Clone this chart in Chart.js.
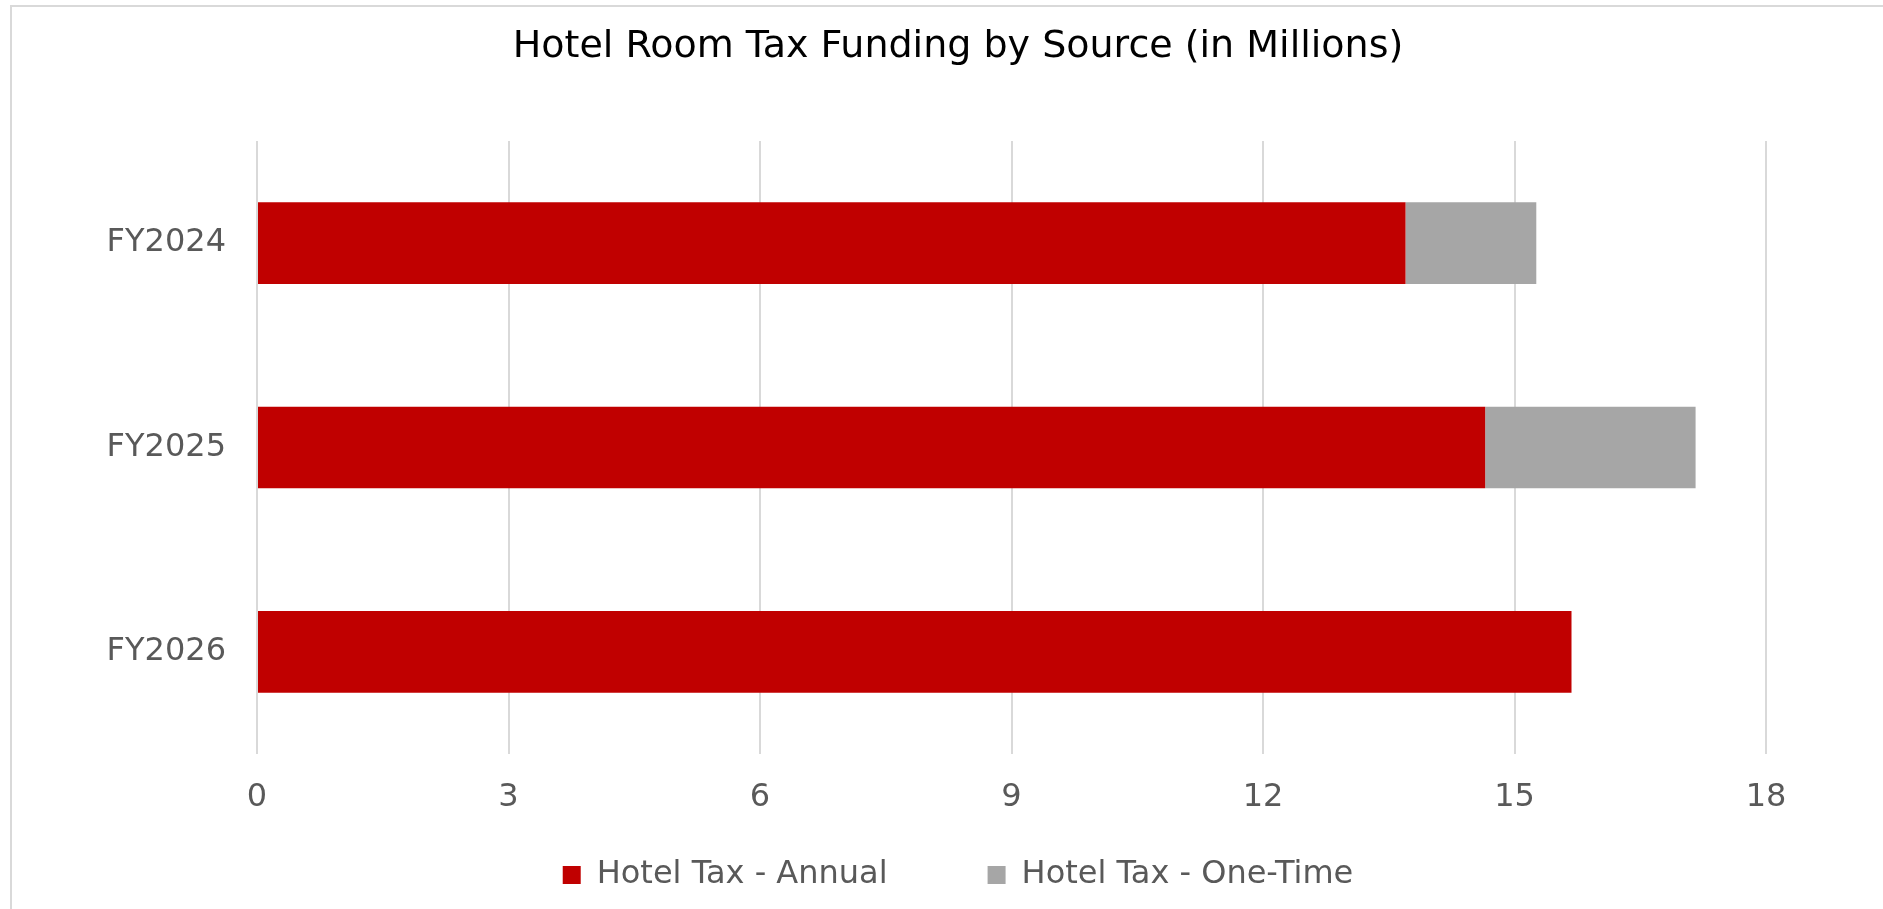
<!DOCTYPE html>
<html>
<head>
<meta charset="utf-8">
<title>Hotel Room Tax Funding by Source</title>
<script src="https://cdn.jsdelivr.net/npm/chart.js@4.4.1/dist/chart.umd.min.js"></script>
<style>
  html, body { margin: 0; padding: 0; background: #fff; overflow: hidden; width: 1883px; height: 909px; }
  #frame {
    position: absolute; left: 10px; top: 5px; width: 1900px; height: 1000px;
    border-left: 2px solid #d9d9d9; border-top: 2px solid #d9d9d9;
  }
  #chart { position: absolute; left: 0; top: 0; }
</style>
</head>
<body>
<div id="frame"></div>
<canvas id="chart" width="1916" height="909"></canvas>
<script>
// values, in millions
var years = ["FY2024", "FY2025", "FY2026"];
var annual = [13.7, 14.65, 15.68];
var oneTime = [1.56, 2.51, null];
var xTicks = [0, 3, 6, 9, 12, 15, 18];

var fontName = "'DejaVu Sans', sans-serif";
var textGrey = "#595959";

// legend sits a little closer to the axis labels than chart.js would put it
var legendPlace = {
    id: "legendPlace",
    beforeInit: function (chart) {
        var lg = chart.legend;
        var fit = lg.fit;
        lg.fit = function () {
            fit.call(lg);
            lg.height = 95;
        };
    },
    afterLayout: function (chart) {
        var lg = chart.legend;
        lg.top = 759;
        lg.bottom = chart.height;
        lg.height = lg.bottom - lg.top;
    }
};

var ctx = document.getElementById("chart").getContext("2d");

new Chart(ctx, {
    type: "bar",
    data: {
        labels: years,
        datasets: [
            {
                label: "Hotel Tax - Annual",
                data: annual,
                backgroundColor: "#c00000",
                borderWidth: 0,
                barPercentage: 0.4,
                categoryPercentage: 1.0
            },
            {
                label: "Hotel Tax - One-Time",
                data: oneTime,
                backgroundColor: "#a6a6a6",
                borderWidth: 0,
                barPercentage: 0.4,
                categoryPercentage: 1.0
            }
        ]
    },
    options: {
        indexAxis: "y",
        responsive: false,
        animation: false,
        layout: {
            padding: { left: 0, right: 0, top: 0, bottom: 0 }
        },
        scales: {
            x: {
                stacked: true,
                min: 0,
                max: 18,
                afterBuildTicks: function (scale) {
                    scale.ticks = xTicks.map(function (v) { return { value: v }; });
                },
                afterFit: function (scale) {
                    scale.height = 60;
                },
                grid: { color: "#d9d9d9", lineWidth: 2, drawTicks: false },
                border: { display: false },
                ticks: {
                    color: textGrey,
                    padding: 24,
                    font: { family: fontName, size: 32 }
                }
            },
            y: {
                stacked: true,
                afterFit: function (scale) {
                    scale.width = 257;
                },
                grid: { display: false, drawTicks: false },
                border: { display: false },
                ticks: {
                    color: textGrey,
                    padding: 31,
                    font: { family: fontName, size: 32 }
                }
            },
            // empty right-hand strip so the plot ends where the reference's does
            yRight: {
                type: "category",
                position: "right",
                afterFit: function (scale) {
                    scale.width = 150;
                },
                grid: { display: false, drawTicks: false },
                border: { display: false },
                ticks: { display: false }
            }
        },
        plugins: {
            title: {
                display: true,
                text: "Hotel Room Tax Funding by Source (in Millions)",
                color: "#000",
                font: { family: fontName, size: 38, weight: "normal" },
                padding: { top: 24, bottom: 71.4 }
            },
            legend: {
                position: "bottom",
                labels: {
                    color: textGrey,
                    boxWidth: 18,
                    boxHeight: 18,
                    padding: 100,
                    font: { family: fontName, size: 32 }
                }
            },
            tooltip: { enabled: false }
        }
    },
    plugins: [legendPlace]
});
</script>
</body>
</html>
